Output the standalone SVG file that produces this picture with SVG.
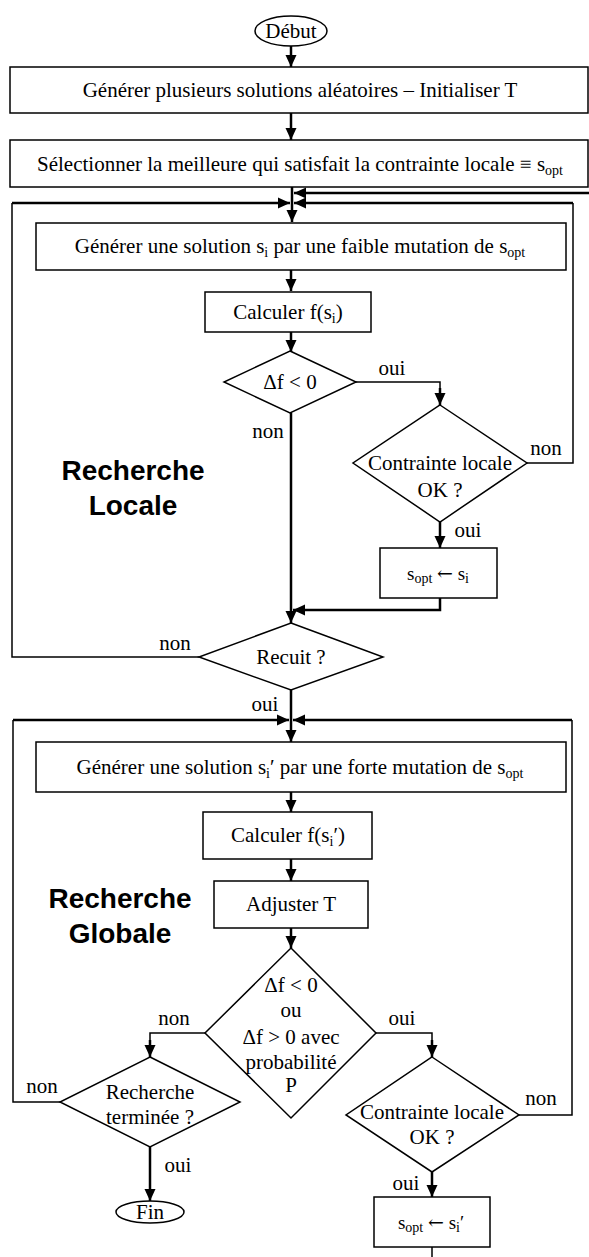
<svg xmlns="http://www.w3.org/2000/svg" width="589" height="1257" viewBox="0 0 589 1257">
<style>
.t{font-family:"Liberation Serif","Times New Roman",serif;font-size:21px;fill:#000;text-anchor:middle}
.s{font-size:14px}
.m{font-size:19px}
.ms{font-size:14px}
.ar{font-family:"DejaVu Serif","DejaVu Sans",serif;font-size:19px}
.b{font-family:"Liberation Sans",Arial,sans-serif;font-size:28px;font-weight:bold;fill:#000;text-anchor:middle}
.box{fill:#fff;stroke:#000;stroke-width:1.5}
.w{fill:none;stroke:#000;stroke-width:2.5}
.n{fill:none;stroke:#000;stroke-width:1.5}
</style>
<defs>
<marker id="a" markerUnits="userSpaceOnUse" markerWidth="12" markerHeight="12" refX="12" refY="6" orient="auto"><path d="M0,0.5 L12,6 L0,11.5 z" fill="#000"/></marker>
</defs>
<g id="connectors">
<path class="w" d="M291,46 V67" marker-end="url(#a)"/>
<path class="w" d="M291,113 V140" marker-end="url(#a)"/>
<path class="w" d="M292,187 V222" marker-end="url(#a)"/>
<path class="w" d="M589,193 H294" marker-end="url(#a)"/>
<path class="n" d="M527,463 H573 V203" />
<path class="w" d="M573,203 H294" marker-end="url(#a)"/>
<path class="n" d="M199,657 H12 V203"/>
<path class="w" d="M12,203 H290" marker-end="url(#a)"/>
<path class="w" d="M291,270 V291" marker-end="url(#a)"/>
<path class="w" d="M291,332 V352" marker-end="url(#a)"/>
<path class="n" d="M356,382 H440 V390"/>
<path class="w" d="M440,388 V405" marker-end="url(#a)"/>
<path class="w" d="M291,413 V623" marker-end="url(#a)"/>
<path class="w" d="M440,522 V548" marker-end="url(#a)"/>
<path class="w" d="M440,598 V610 H293" marker-end="url(#a)"/>
<path class="w" d="M291,690 V742" marker-end="url(#a)"/>
<path class="n" d="M60,1102 H13 V720"/>
<path class="w" d="M13,720 H289" marker-end="url(#a)"/>
<path class="n" d="M519,1115 H572 V720"/>
<path class="w" d="M572,720 H293" marker-end="url(#a)"/>
<path class="w" d="M291,792 V812" marker-end="url(#a)"/>
<path class="w" d="M291,859 V881" marker-end="url(#a)"/>
<path class="w" d="M291,928 V948" marker-end="url(#a)"/>
<path class="n" d="M205,1033 H150 V1045"/>
<path class="w" d="M150,1040 V1057" marker-end="url(#a)"/>
<path class="n" d="M376,1033 H432 V1045"/>
<path class="w" d="M432,1040 V1057" marker-end="url(#a)"/>
<path class="w" d="M150,1147 V1201" marker-end="url(#a)"/>
<path class="w" d="M432,1172 V1197" marker-end="url(#a)"/>
<path class="n" d="M432,1247 V1257"/>
</g>
<g id="debut"><ellipse class="box" cx="291" cy="31" rx="36" ry="15"/><text class="t" x="291" y="38">Début</text></g>
<g id="generer"><rect class="box" x="10" y="67" width="578" height="46"/><text class="t" x="300" y="97">Générer plusieurs solutions aléatoires – Initialiser T</text></g>
<g id="selectionner"><rect class="box" x="10" y="140" width="578" height="47"/><text class="t" x="300" y="171">Sélectionner la meilleure qui satisfait la contrainte locale ≡ s<tspan class="s" dy="4">opt</tspan></text></g>
<g id="faible"><rect class="box" x="36" y="223" width="530" height="47"/><text class="t" x="300" y="253">Générer une solution s<tspan class="s" dy="4">i</tspan><tspan dy="-4"> par une faible mutation de s</tspan><tspan class="s" dy="4">opt</tspan></text></g>
<g id="calculer1"><rect class="box" x="205" y="292" width="166" height="40"/><text class="t" x="288" y="319">Calculer f(s<tspan class="s" dy="4">i</tspan><tspan dy="-4">)</tspan></text></g>
<g id="delta1"><polygon class="box" points="290,351 356,382 290,413 224,382"/><text class="t" x="290" y="389">Δf &lt; 0</text></g>
<g id="lbl-oui1"><text class="t" x="392" y="375">oui</text></g>
<g id="contrainte1"><polygon class="box" points="440,405 527,463 440,522 353,463"/><text class="t" x="440" y="470">Contrainte locale</text><text class="t" x="440" y="497">OK ?</text></g>
<g id="lbl-non1"><text class="t" x="546" y="455">non</text></g>
<g id="lbl-oui2"><text class="t" x="468" y="537">oui</text></g>
<g id="sopt1"><rect class="box" x="380" y="548" width="117" height="50"/><text class="t m" x="438" y="580">s<tspan class="ms" dy="3">opt</tspan><tspan dy="-3"> </tspan><tspan class="ar">←</tspan><tspan> s</tspan><tspan class="ms" dy="3">i</tspan></text></g>
<g id="lbl-non2"><text class="t" x="268" y="438">non</text></g>
<g id="titre-locale"><text class="b" x="133" y="480">Recherche</text><text class="b" x="133" y="515">Locale</text></g>
<g id="lbl-non3"><text class="t" x="175" y="650">non</text></g>
<g id="recuit"><polygon class="box" points="291,623 383,657 291,690 199,657"/><text class="t" x="291" y="664">Recuit ?</text></g>
<g id="lbl-oui3"><text class="t" x="265" y="711">oui</text></g>
<g id="forte"><rect class="box" x="36" y="742" width="530" height="50"/><text class="t" x="300" y="774">Générer une solution s<tspan class="s" dy="4">i</tspan><tspan dy="-4">′ par une forte mutation de s</tspan><tspan class="s" dy="4">opt</tspan></text></g>
<g id="calculer2"><rect class="box" x="203" y="812" width="169" height="47"/><text class="t" x="288" y="842">Calculer f(s<tspan class="s" dy="4">i</tspan><tspan dy="-4">′)</tspan></text></g>
<g id="ajuster"><rect class="box" x="214" y="881" width="154" height="47"/><text class="t" x="291" y="911">Adjuster T</text></g>
<g id="titre-globale"><text class="b" x="120" y="908">Recherche</text><text class="b" x="120" y="943">Globale</text></g>
<g id="delta2"><polygon class="box" points="291,948 376,1033 291,1118 205,1033"/><text class="t" x="291" y="992">Δf &lt; 0</text><text class="t" x="291" y="1017">ou</text><text class="t" x="291" y="1044">Δf &gt; 0 avec</text><text class="t" x="291" y="1069">probabilité</text><text class="t" x="291" y="1092">P</text></g>
<g id="lbl-non4"><text class="t" x="174" y="1025">non</text></g>
<g id="lbl-oui4"><text class="t" x="402" y="1025">oui</text></g>
<g id="terminee"><polygon class="box" points="150,1057 240,1102 150,1147 60,1102"/><text class="t" x="150" y="1099">Recherche</text><text class="t" x="150" y="1124">terminée ?</text></g>
<g id="lbl-non5"><text class="t" x="42" y="1093">non</text></g>
<g id="lbl-oui5"><text class="t" x="178" y="1172">oui</text></g>
<g id="fin"><ellipse class="box" cx="150" cy="1212" rx="34" ry="11"/><text class="t" x="150" y="1219">Fin</text></g>
<g id="contrainte2"><polygon class="box" points="432,1057 519,1115 432,1172 346,1115"/><text class="t" x="432" y="1119">Contrainte locale</text><text class="t" x="432" y="1144">OK ?</text></g>
<g id="lbl-non6"><text class="t" x="541" y="1105">non</text></g>
<g id="lbl-oui6"><text class="t" x="406" y="1190">oui</text></g>
<g id="sopt2"><rect class="box" x="374" y="1197" width="116" height="50"/><text class="t m" x="431" y="1229">s<tspan class="ms" dy="3">opt</tspan><tspan dy="-3"> </tspan><tspan class="ar">←</tspan><tspan> s</tspan><tspan class="ms" dy="3">i</tspan><tspan dy="-3">′</tspan></text></g>
</svg>
